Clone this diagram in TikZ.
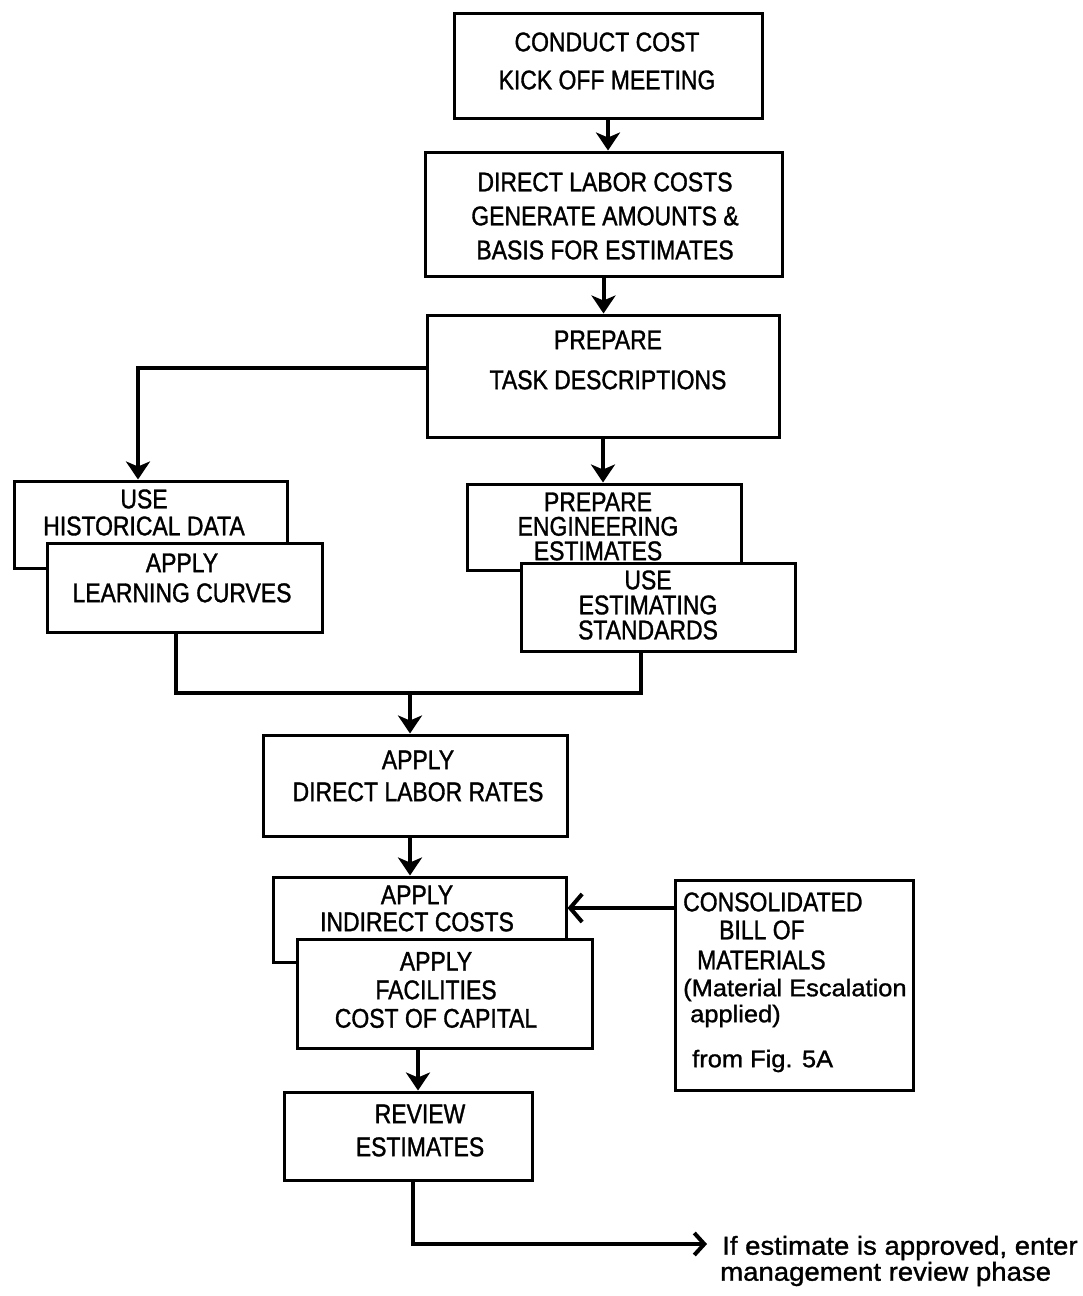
\documentclass[tikz,border=0pt]{standalone}
\usepackage{fontspec}
\usetikzlibrary{arrows.meta}
\newfontfamily\capsfont[FakeStretch=0.85,FakeBold=1.2]{Liberation Sans}
\newfontfamily\lowfont[FakeStretch=1.06,FakeBold=1.2]{Liberation Sans}
\begin{document}
\begin{tikzpicture}[x=1pt,y=-1pt,
  box/.style={draw, line width=3pt, fill=white, inner sep=0pt},
  txt/.style={inner sep=0pt, align=center, font=\capsfont\fontsize{27}{#1}\selectfont},
  txt/.default=34,
  ltxt/.style={inner sep=0pt, anchor=west, font=\capsfont\fontsize{27}{32}\selectfont},
  lowtxt/.style={inner sep=0pt, anchor=west, font=\lowfont\fontsize{24}{28}\selectfont},
  line/.style={line width=4pt},
  arr/.style={line width=4pt, -{Stealth[width=24pt,length=18pt,inset=5pt]}},
  barb/.style={line width=4pt, -{Straight Barb[width=28pt,length=12pt,line width=4pt]}}
]
\useasboundingbox (0,0) rectangle (1082,1296);

% main column
\node[box, minimum width=308, minimum height=105] (b1) at (608,65.5) {};
\node[txt=38] (t1) at (607,61) {CONDUCT COST\\KICK OFF MEETING};

\node[box, minimum width=357, minimum height=124] (b2) at (603.5,214) {};
\node[txt=34] (t2) at (605,216) {DIRECT LABOR COSTS\\GENERATE AMOUNTS \&\\BASIS FOR ESTIMATES};

\node[box, minimum width=352, minimum height=122] (b3) at (603,376) {};
\node[txt=40] (t3) at (608,360) {PREPARE\\TASK DESCRIPTIONS};

% left branch: stacked boxes
\node[box, minimum width=273, minimum height=87] (b4) at (150.5,524.5) {};
\node[txt=27] (t4) at (144,512.5) {USE\\HISTORICAL DATA};
\node[box, minimum width=275, minimum height=89] (b5) at (184.5,587.5) {};
\node[txt=30] (t5) at (182,578) {APPLY\\LEARNING CURVES};

% right branch: stacked boxes
\node[box, minimum width=274, minimum height=86] (b6) at (604,527) {};
\node[txt=24.5] (t6) at (598,526.5) {PREPARE\\ENGINEERING\\ESTIMATES};
\node[box, minimum width=274, minimum height=88] (b7) at (658,607) {};
\node[txt=25] (t7) at (648,605) {USE\\ESTIMATING\\STANDARDS};

\node[box, minimum width=304, minimum height=101] (b8) at (415,785.5) {};
\node[txt=32] (t8) at (418,776) {APPLY\\DIRECT LABOR RATES};

\node[box, minimum width=293, minimum height=85] (b9) at (419.5,919.5) {};
\node[txt=27] (t9) at (417,908.5) {APPLY\\INDIRECT COSTS};
\node[box, minimum width=295, minimum height=109] (b10) at (444.5,993.5) {};
\node[txt=28.5] (t10) at (436,990) {APPLY\\FACILITIES\\COST OF CAPITAL};

% materials input
\node[box, minimum width=238, minimum height=210] (b11) at (794,985) {};
\node[ltxt] (t11a) at (683,902) {CONSOLIDATED};
\node[ltxt] (t11b) at (719,930) {BILL OF};
\node[ltxt] (t11c) at (697,960) {MATERIALS};
\node[lowtxt] (t11d) at (683,990) {(Material Escalation};
\node[lowtxt] (t11e) at (690,1016) {applied)};
\node[lowtxt] (t11f) at (692,1061) {from Fig. 5A};

\node[box, minimum width=248, minimum height=88] (b12) at (408,1136) {};
\node[txt=33] (t12) at (420,1130.5) {REVIEW\\ESTIMATES};

% exit note
\node[lowtxt, font=\lowfont\fontsize{26}{30}\selectfont] (out1) at (722,1248) {If estimate is approved, enter};
\node[lowtxt, font=\lowfont\fontsize{26}{30}\selectfont] (out2) at (720,1274) {management review phase};

% connectors
\draw[arr] (b1.south) -- (b1.south |- b2.north);
\draw[arr] (b2.south) -- (b2.south |- b3.north);
\draw[arr] ([yshift=8pt]b3.west) -| ([xshift=-12.5pt]b4.north);
\draw[arr] (b3.south) -- (b3.south |- b6.north);

\coordinate (m) at (410,693);
\draw[line] ([xshift=-8.5pt]b5.south) |- (m);
\draw[line] ([xshift=-17pt]b7.south) |- (m);
\draw[arr] (m) -- (m |- b8.north);
\draw[arr] (m |- b8.south) -- (m |- b9.north);

\coordinate (b9in) at ([yshift=11.5pt]b9.east);
\draw[barb] (b11.west |- b9in) -- (b9in);

\coordinate (d) at ([xshift=-26.5pt]b10.south);
\draw[arr] (d) -- (d |- b12.north);

\coordinate (e) at ([xshift=5pt]b12.south);
\coordinate (f) at (707,1244);
\draw[line, -{Straight Barb[width=22pt,length=10pt,line width=4pt]}] (e) |- (f);
\end{tikzpicture}
\end{document}
